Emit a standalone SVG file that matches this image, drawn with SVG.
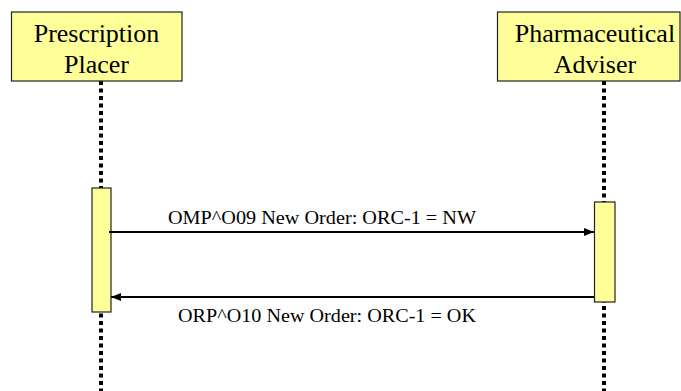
<svg xmlns="http://www.w3.org/2000/svg" width="681" height="391" viewBox="0 0 681 391">
<style>
.box{fill:#FFFF99;stroke:#222;stroke-width:1.2}
.hdr{font-size:26px;fill:#000;text-anchor:middle}
.lbl{font-size:19px;fill:#000}
.life{stroke:#000;stroke-width:4;stroke-dasharray:4 3.5;fill:none}
.msg{stroke:#000;stroke-width:2;fill:none}
text{font-family:"Times New Roman",Times,"Liberation Serif",Tinos,"Noto Serif","DejaVu Serif",FreeSerif,serif}
</style>
<defs>
<marker id="ah" viewBox="0 0 10 10" refX="10" refY="5" markerWidth="10" markerHeight="10" markerUnits="userSpaceOnUse" orient="auto">
<path d="M0,1 L10,5 L0,9 Z" fill="#000"/>
</marker>
</defs>
<rect width="681" height="391" fill="#fff"/>
<g id="lifelines">
<line class="life" x1="101" y1="81" x2="101" y2="391"/>
<line class="life" x1="604" y1="81" x2="604" y2="391"/>
</g>
<g id="placer">
<rect class="box" x="11.5" y="12" width="170.5" height="69"/>
<text class="hdr" x="96.5" y="42">Prescription</text>
<text class="hdr" x="96.5" y="73">Placer</text>
</g>
<g id="adviser">
<rect class="box" x="497.5" y="12" width="182.5" height="69"/>
<text class="hdr" x="595" y="42">Pharmaceutical</text>
<text class="hdr" x="595" y="73">Adviser</text>
</g>
<g id="act-placer">
<rect class="box" x="92" y="188" width="19" height="124"/>
</g>
<g id="act-adviser">
<rect class="box" x="594.5" y="202" width="20.5" height="100"/>
</g>
<g id="connectors">
<line class="msg" x1="109" y1="232" x2="594" y2="232" marker-end="url(#ah)"/>
<text class="lbl" x="168" y="224" textLength="308" lengthAdjust="spacingAndGlyphs">OMP^O09 New Order: ORC-1 = NW</text>
<line class="msg" x1="594" y1="297" x2="111" y2="297" marker-end="url(#ah)"/>
<text class="lbl" x="178" y="322" textLength="298" lengthAdjust="spacingAndGlyphs">ORP^O10 New Order: ORC-1 = OK</text>
</g>
</svg>
